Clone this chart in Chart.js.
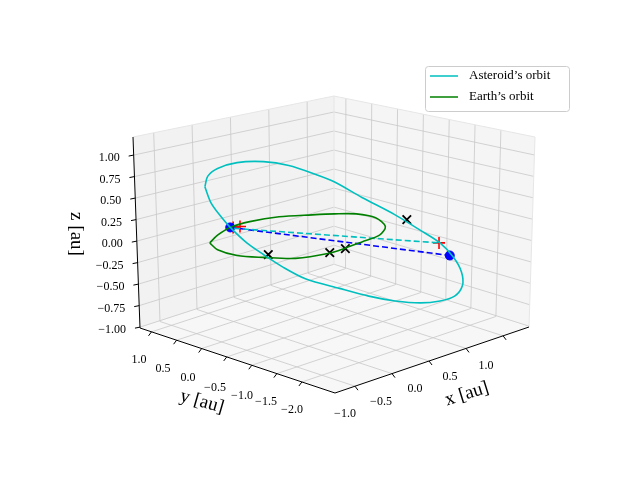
<!DOCTYPE html>
<html><head><meta charset="utf-8">
<script src="https://cdn.jsdelivr.net/npm/chart.js@4"></script>
<style>body{margin:0;background:#fff}canvas{display:block}</style>
</head><body>
<canvas id="c" width="640" height="480"></canvas>
<script>
// Axis ranges and tick labels of the 3D box
const xRange = [-1.27, 1.35], yRange = [-2.66, 1.23], zRange = [-1.01, 1.21];
const xTicks = [-1.0, -0.5, 0.0, 0.5, 1.0];
const yTicks = [1.0, 0.5, 0.0, -0.5, -1.0, -1.5, -2.0];
const zTicks = [1.0, 0.75, 0.5, 0.25, 0.0, -0.25, -0.5, -0.75, -1.0];
const xTickLabels = ["\u22121.0","\u22120.5","0.0","0.5","1.0"];
const yTickLabels = ["1.0","0.5","0.0","\u22120.5","\u22121.0","\u22121.5","\u22122.0"];
const zTickLabels = ["1.00","0.75","0.50","0.25","0.00","\u22120.25","\u22120.50","\u22120.75","\u22121.00"];

// Projected (screen) traces
const asteroidOrbit = [[202,185],[205,174],[215,166],[235,160],[262,159],[288,163],[315,172],[335,180],[363,196],[397,214],[423,230],[443,243],[457,258],[465,273],[466,287],[458,298],[443,303],[423,305],[397,303],[370,298],[340,290],[305,280],[282,268],[262,255],[245,243],[228,227],[217,214],[208,201],[202,185]];
const earthOrbit = [[207,243],[215,235],[228,227],[248,221],[278,216],[312,214],[335,213],[357,213],[377,217],[387,226],[381,235],[363,242],[347,248],[328,254],[295,259],[262,258],[235,256],[215,250],[207,243]];
const blueDashed = [[228,227],[453,256]];
const cyanDashed = [[232,228],[442,243]];
const blueDots = [[228,227],[453,256]];
const redPlus = [[231,227],[238,226],[442,243]];
const blackX = [[267,255],[330,253],[346,249],[409,219]];

const pts = a => a.map(p => ({x:p[0], y:p[1]}));

const corner = {
 '000':[335,393],'100':[529,327],'010':[140,328],'110':[334,265],
 '001':[335,180],'101':[535,137],'011':[133,137],'111':[334,96]
};
function P(x,y,z){
 const u=(x-xRange[0])/(xRange[1]-xRange[0]), v=(y-yRange[0])/(yRange[1]-yRange[0]), w=(z-zRange[0])/(zRange[1]-zRange[0]);
 let X=0,Y=0;
 for(const a of [0,1])for(const b of [0,1])for(const c of [0,1]){
  const k=(a?u:1-u)*(b?v:1-v)*(c?w:1-w); const p=corner[''+a+b+c]; X+=k*p[0]; Y+=k*p[1];
 }
 return [X,Y];
}
const [x0,x1]=xRange,[y0,y1]=yRange,[z0,z1]=zRange;
function poly(ctx,ps,fill){ctx.beginPath();ps.forEach((p,i)=>i?ctx.lineTo(p[0],p[1]):ctx.moveTo(p[0],p[1]));ctx.closePath();ctx.fillStyle=fill;ctx.fill();}
function line(ctx,a,b,col,w){ctx.beginPath();ctx.moveTo(a[0],a[1]);ctx.lineTo(b[0],b[1]);ctx.strokeStyle=col;ctx.lineWidth=w;ctx.stroke();}

const boxPlugin = {
 id:'box',
 beforeDatasetsDraw(chart){
  const ctx=chart.ctx; ctx.save();
  poly(ctx,[P(x0,y1,z0),P(x1,y1,z0),P(x1,y1,z1),P(x0,y1,z1)],'#f2f2f2');
  poly(ctx,[P(x1,y0,z0),P(x1,y1,z0),P(x1,y1,z1),P(x1,y0,z1)],'#f5f5f5');
  poly(ctx,[P(x0,y0,z0),P(x1,y0,z0),P(x1,y1,z0),P(x0,y1,z0)],'#f7f7f7');
  const g='#c8c8c8';
  xTicks.forEach(x=>{line(ctx,P(x,y0,z0),P(x,y1,z0),g,0.8);line(ctx,P(x,y1,z0),P(x,y1,z1),g,0.8);});
  yTicks.forEach(y=>{line(ctx,P(x0,y,z0),P(x1,y,z0),g,0.8);line(ctx,P(x1,y,z0),P(x1,y,z1),g,0.8);});
  zTicks.forEach(z=>{line(ctx,P(x0,y1,z),P(x1,y1,z),g,0.8);line(ctx,P(x1,y1,z),P(x1,y0,z),g,0.8);});
  const e='#e6e6e6';
  line(ctx,P(x0,y1,z1),P(x1,y1,z1),e,1);line(ctx,P(x1,y1,z1),P(x1,y0,z1),e,1);
  line(ctx,P(x1,y1,z0),P(x1,y1,z1),e,1);line(ctx,P(x1,y0,z0),P(x1,y0,z1),e,1);
  line(ctx,P(x0,y1,z0),P(x0,y1,z1),'#000',1);
  line(ctx,P(x0,y1,z0),P(x0,y0,z0),'#000',1);
  line(ctx,P(x0,y0,z0),P(x1,y0,z0),'#000',1);
  zTicks.forEach(z=>{const a=P(x0,y1,z);line(ctx,a,[a[0]-5,a[1]+1],'#000',1);});
  yTicks.forEach(y=>{const a=P(x0,y,z0);line(ctx,a,[a[0]-3,a[1]+4],'#000',1);});
  xTicks.forEach(x=>{const a=P(x,y0,z0);line(ctx,a,[a[0]+3,a[1]+4],'#000',1);});
  ctx.restore();
 },
 afterDraw(chart){
  const ctx=chart.ctx; ctx.save();
  ctx.fillStyle='#000'; ctx.font='12px "Liberation Serif", "DejaVu Serif", serif';
  ctx.textBaseline='middle';
  ctx.textAlign='right';
  zTicks.forEach((z,i)=>{const a=P(x0,y1,z);ctx.fillText(zTickLabels[i],a[0]-14,a[1]+3);});
  ctx.textAlign='center';
  const yl=[[139,360],[163,369],[188,378],[215,388],[242,396],[266,402],[292,410]];
  yTickLabels.forEach((t,i)=>ctx.fillText(t,yl[i][0],yl[i][1]));
  const xl=[[345,414],[381,402],[415,389],[450,377],[486,366]];
  xTickLabels.forEach((t,i)=>ctx.fillText(t,xl[i][0],xl[i][1]));
  ctx.font='19px "Liberation Serif", "DejaVu Serif", serif';
  ctx.save();ctx.translate(467,394);ctx.rotate(-0.3);ctx.fillText('x [au]',0,0);ctx.restore();
  ctx.save();ctx.translate(202,402);ctx.rotate(0.28);ctx.fillText('y [au]',0,0);ctx.restore();
  ctx.save();ctx.translate(76,234);ctx.rotate(Math.PI/2);ctx.fillText('z [au]',0,0);ctx.restore();
  ctx.beginPath();ctx.roundRect(425.5,66.5,144,45,3);ctx.fillStyle='rgba(255,255,255,0.8)';ctx.fill();
  ctx.strokeStyle='#cccccc';ctx.lineWidth=1;ctx.stroke();
  line(ctx,[430,76],[458,76],'#00bfbf',1.5);line(ctx,[430,97],[458,97],'#008000',1.5);
  ctx.fillStyle='#000';ctx.textAlign='left';ctx.font='13px "Liberation Serif", "DejaVu Serif", serif';
  ctx.fillText('Asteroid\u2019s orbit',469,76);ctx.fillText('Earth\u2019s orbit',469,97);
  ctx.restore();
 }
};

new Chart(document.getElementById('c'),{
 type:'scatter',
 data:{datasets:[
  {data:pts(asteroidOrbit),showLine:true,borderColor:'#00bfbf',borderWidth:1.6,pointRadius:0,tension:0.3},
  {data:pts(earthOrbit),showLine:true,borderColor:'#008000',borderWidth:1.6,pointRadius:0,tension:0.3},
  {data:pts(cyanDashed),showLine:true,borderColor:'#00bfbf',borderWidth:1.6,borderDash:[6,3],pointRadius:0},
  {data:pts(blueDashed),showLine:true,borderColor:'#0000ff',borderWidth:1.6,borderDash:[6,3],pointRadius:0},
  {data:pts(blueDots),pointStyle:'circle',pointRadius:4.5,backgroundColor:'#0000ff',borderColor:'#0000ff'},
  {data:pts(redPlus),pointStyle:'cross',pointRadius:6,borderColor:'#ff0000',borderWidth:1.6},
  {data:pts(blackX),pointStyle:'crossRot',pointRadius:6,borderColor:'#000',borderWidth:1.8}
 ]},
 options:{responsive:false,animation:false,layout:{padding:0},
  plugins:{legend:{display:false},tooltip:{enabled:false}},
  scales:{x:{type:'linear',min:0,max:640,display:false},y:{type:'linear',min:0,max:480,reverse:true,display:false}}},
 plugins:[boxPlugin]
});
</script>
</body></html>
